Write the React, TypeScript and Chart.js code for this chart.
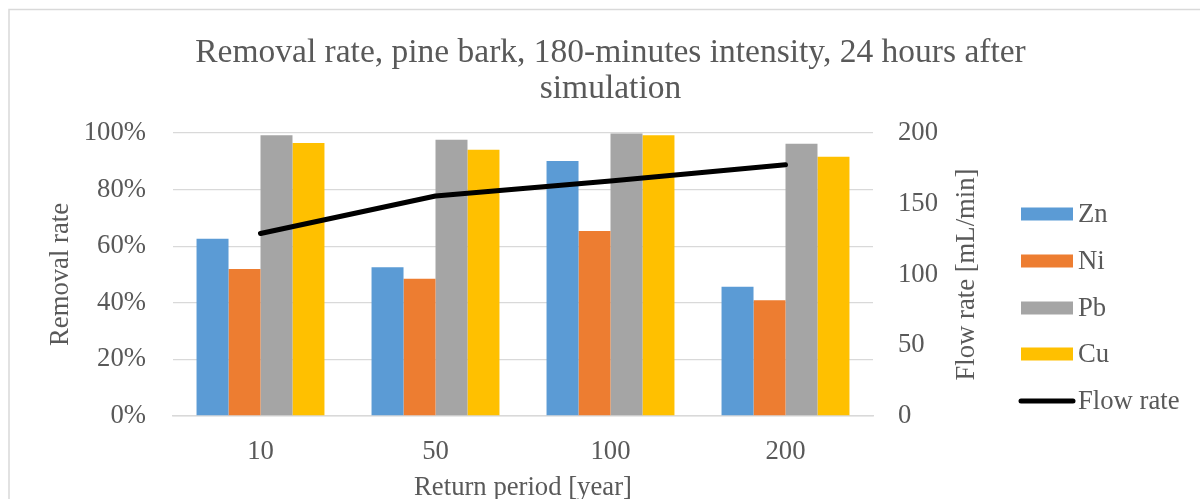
import React, { useEffect, useRef } from "react";
import { Chart, registerables } from "chart.js";

Chart.register(...registerables);

const categories = ["10", "50", "100", "200"];
const znValues = [0.626, 0.526, 0.901, 0.457];
const niValues = [0.519, 0.485, 0.654, 0.409];
const pbValues = [0.992, 0.976, 0.998, 0.962];
const cuValues = [0.965, 0.941, 0.992, 0.916];
const flowValues = [129, 155.5, 166, 177.5];

const titleLines = ["Removal rate, pine bark, 180-minutes intensity, 24 hours after", "simulation"];
const rightAxisTitle = "Flow rate [mL/min]";
const legendItems = [
  { label: "Zn", color: "#5B9BD5", kind: "box" },
  { label: "Ni", color: "#ED7D31", kind: "box" },
  { label: "Pb", color: "#A5A5A5", kind: "box" },
  { label: "Cu", color: "#FFC000", kind: "box" },
  { label: "Flow rate", color: "#000000", kind: "line" },
];

const FONT = "'Liberation Serif', 'Times New Roman', serif";
const TEXT = "#595959";
const GRID = "#D9D9D9";

const decorPlugin = {
  id: "decor",
  beforeDraw(chart: any) {
    const ctx = chart.ctx;
    ctx.save();
    ctx.fillStyle = "#ffffff";
    ctx.fillRect(0, 0, chart.width, chart.height);
    ctx.strokeStyle = GRID;
    ctx.lineWidth = 1.5;
    ctx.strokeRect(9, 9.5, 1400, 700);
    ctx.restore();
  },
  afterDraw(chart: any) {
    const ctx = chart.ctx;
    ctx.save();
    // title
    ctx.fillStyle = TEXT;
    ctx.font = `33.5px ${FONT}`;
    ctx.textAlign = "center";
    ctx.textBaseline = "alphabetic";
    ctx.fillText(titleLines[0], 610.5, 62);
    ctx.fillText(titleLines[1], 610.5, 98);
    // right axis title (reads bottom to top)
    const y1 = chart.scales.y1;
    ctx.save();
    ctx.font = `26.7px ${FONT}`;
    ctx.translate(y1.right - 26.5, (chart.chartArea.top + chart.chartArea.bottom) / 2);
    ctx.rotate(-Math.PI / 2);
    ctx.textAlign = "center";
    ctx.textBaseline = "middle";
    ctx.fillText(rightAxisTitle, 0, 0);
    ctx.restore();
    // legend
    ctx.font = `26.7px ${FONT}`;
    ctx.textAlign = "left";
    ctx.textBaseline = "middle";
    const ys = [214, 261, 308, 354, 401];
    legendItems.forEach((it, i) => {
      const y = ys[i];
      if (it.kind === "box") {
        ctx.fillStyle = it.color;
        ctx.fillRect(1021, y - 6.5, 52, 13);
      } else {
        ctx.strokeStyle = it.color;
        ctx.lineWidth = 5;
        ctx.lineCap = "round";
        ctx.beginPath();
        ctx.moveTo(1021, y);
        ctx.lineTo(1073, y);
        ctx.stroke();
      }
      ctx.fillStyle = TEXT;
      ctx.fillText(it.label, 1078, y + 1);
    });
    ctx.restore();
  },
};

export default function App() {
  const ref = useRef<HTMLCanvasElement>(null);
  useEffect(() => {
    document.body.style.margin = "0";
    document.body.style.overflow = "hidden";
    const canvas = ref.current!;
    const tickFont = { family: FONT, size: 26.7 };
    const chart = new Chart(canvas, {
      type: "bar",
      data: {
        labels: categories,
        datasets: [
          {
            type: "line",
            label: "Flow rate",
            data: flowValues,
            yAxisID: "y1",
            borderColor: "#000000",
            backgroundColor: "#000000",
            borderWidth: 5,
            borderCapStyle: "round",
            borderJoinStyle: "round",
            pointRadius: 0,
            tension: 0,
            order: 0,
          } as any,
          { label: "Zn", data: znValues, backgroundColor: "#5B9BD5", yAxisID: "y", order: 1 },
          { label: "Ni", data: niValues, backgroundColor: "#ED7D31", yAxisID: "y", order: 1 },
          { label: "Pb", data: pbValues, backgroundColor: "#A5A5A5", yAxisID: "y", order: 1 },
          { label: "Cu", data: cuValues, backgroundColor: "#FFC000", yAxisID: "y", order: 1 },
        ],
      },
      options: {
        responsive: false,
        animation: false,
        devicePixelRatio: 1,
        layout: { padding: { top: 133, left: 0, right: 207, bottom: 0 } },
        datasets: { bar: { categoryPercentage: 0.731, barPercentage: 1.0, borderWidth: 0 } } as any,
        plugins: {
          legend: { display: false },
          title: { display: false },
          tooltip: { enabled: false },
        },
        scales: {
          x: {
            offset: true,
            grid: { display: false, drawTicks: false },
            border: { display: true, color: GRID, width: 1.5 },
            ticks: { font: tickFont, color: TEXT, padding: 20 },
            title: {
              display: true,
              text: "Return period [year]",
              font: { family: FONT, size: 26.7, lineHeight: 0.8 },
              color: TEXT,
              padding: 0,
            },
            afterFit: (s: any) => {
              s.height = 83;
            },
          },
          y: {
            position: "left",
            min: 0,
            max: 1,
            ticks: {
              stepSize: 0.2,
              font: tickFont,
              color: TEXT,
              padding: 27,
              callback: (v: any) => `${Math.round(Number(v) * 100)}%`,
            },
            grid: { color: GRID, lineWidth: 1.3, drawTicks: false },
            border: { display: false },
            title: {
              display: true,
              text: "Removal rate",
              font: { family: FONT, size: 26.7, lineHeight: 1.2 },
              color: TEXT,
              padding: { top: 45, bottom: 0 },
            },
            afterFit: (s: any) => {
              s.width = 173;
            },
          },
          y1: {
            position: "right",
            min: 0,
            max: 200,
            ticks: { stepSize: 50, font: tickFont, color: TEXT, padding: 25 },
            grid: { display: false, drawTicks: false },
            border: { display: false },
            title: { display: false },
            afterFit: (s: any) => {
              s.width = 120;
            },
          },
        },
      } as any,
      plugins: [decorPlugin],
    });
    return () => chart.destroy();
  }, []);
  return (
    <div style={{ position: "fixed", left: 0, top: 0, width: 1200, height: 499, overflow: "hidden", background: "#fff" }}>
      <canvas ref={ref} width={1200} height={499} style={{ width: 1200, height: 499, display: "block" }} />
    </div>
  );
}
